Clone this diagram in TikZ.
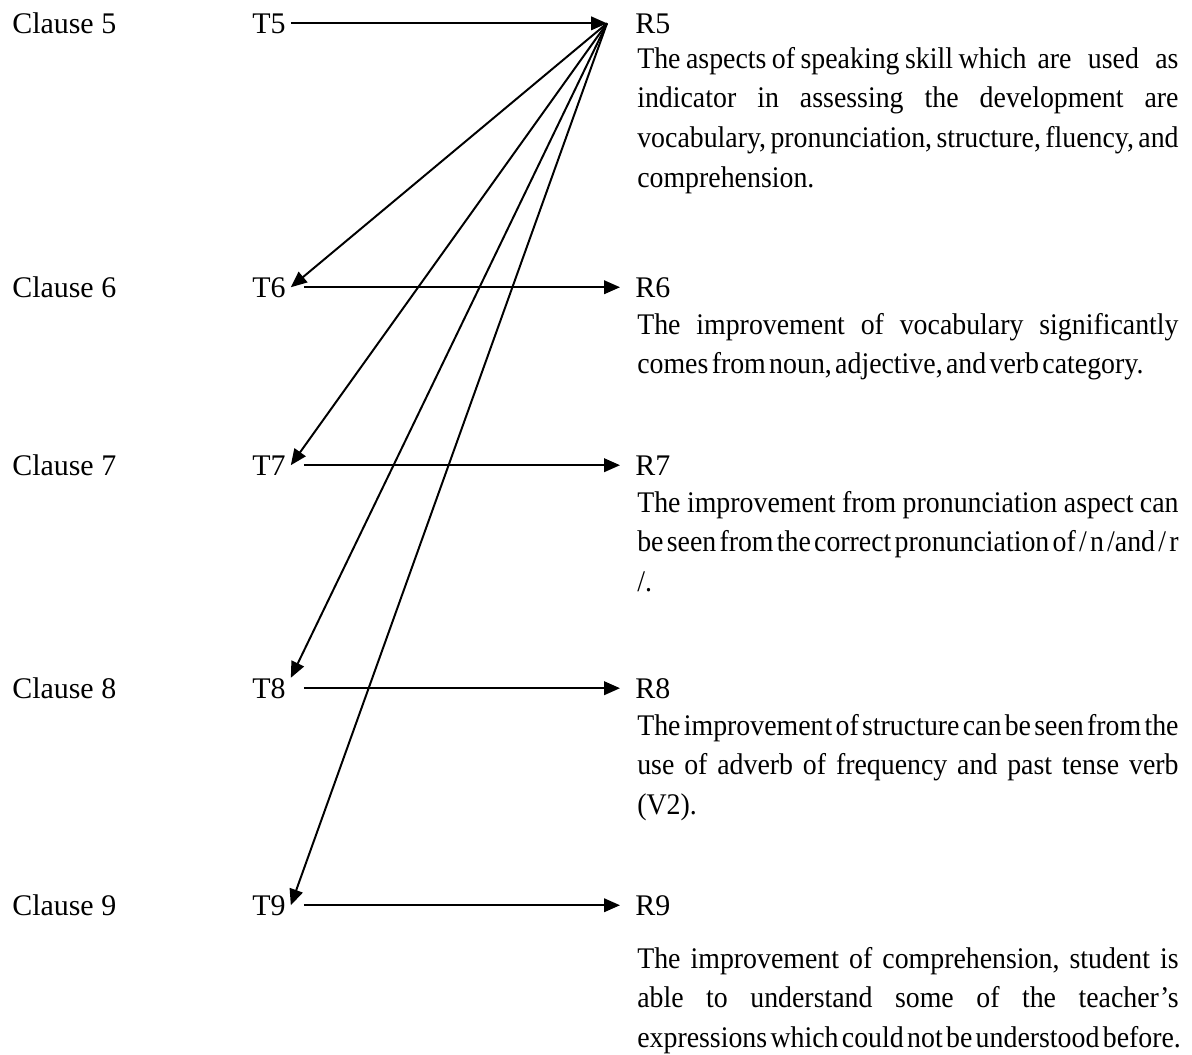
\documentclass[tikz,border=0pt]{standalone}
\usepackage{fontspec}
\setmainfont{Liberation Serif}
\usepackage{graphicx}
\usepackage{tikz}
\usetikzlibrary{positioning, arrows.meta}

\newlength{\descw}
\setlength{\descw}{13.525cm}
\newlength{\widew}
\setlength{\widew}{14.55cm}
% condensed, justified line and condensed natural line
\newcommand{\jline}[1]{\scalebox{0.93}[1]{\hbox to \widew{\spaceskip=0.1em plus 1fil minus 0.05em\relax #1}}}
\newcommand{\nline}[1]{\scalebox{0.93}[1]{\spaceskip=0.12em\relax #1}}

\begin{document}
\begin{tikzpicture}[
    font=\fontsize{21.3}{28.1}\selectfont,
    clause/.style={
        anchor=base west,
        inner sep=0pt
    },
    tlabel/.style={
        anchor=base west,
        inner xsep=0.125cm,
        inner ysep=0pt
    },
    rlabel/.style={
        anchor=base west,
        inner xsep=0.375cm,
        inner ysep=0pt
    },
    desc/.style={
        anchor=north west,
        inner sep=0pt,
        align=left,
        font=\fontsize{21.3}{28.2}\selectfont\frenchspacing
    },
    arr/.style={-{Triangle[length=4mm, width=3.4mm]}, line width=1.4pt}
]
\useasboundingbox (0,0) rectangle (29.8,-26.35);

\node[clause] (c5) at (0.3,  -0.825) {Clause 5};
\node[clause] (c6) at (0.3,  -7.425) {Clause 6};
\node[clause] (c7) at (0.3, -11.875) {Clause 7};
\node[clause] (c8) at (0.3, -17.45)  {Clause 8};
\node[clause] (c9) at (0.3, -22.875) {Clause 9};

\node[tlabel] (t5) at (6.175,  -0.825) {T5};
\node[tlabel] (t6) at (6.175,  -7.425) {T6};
\node[tlabel] (t7) at (6.175, -11.875) {T7};
\node[tlabel] (t8) at (6.175, -17.45)  {T8};
\node[tlabel] (t9) at (6.175, -22.875) {T9};

\node[rlabel, inner xsep=0.7cm] (r5) at (15.175, -0.825) {R5};
\node[rlabel] (r6) at (15.5,  -7.425) {R6};
\node[rlabel] (r7) at (15.5, -11.875) {R7};
\node[rlabel] (r8) at (15.5, -17.45)  {R8};
\node[rlabel] (r9) at (15.5, -22.875) {R9};

% findings under each result
\node[desc] (d5) at (15.925, -0.95) {
  \jline{\rule{0pt}{0.75cm}The aspects of speaking skill which~ are~~ used~~ as}\\
  \jline{indicator in assessing the development are}\\
  \jline{vocabulary, pronunciation, structure, fluency, and}\\
  \nline{comprehension.}};
\node[desc] (d6) at (15.925, -7.6) {
  \jline{\rule{0pt}{0.75cm}The improvement of vocabulary significantly}\\
  \nline{comes from noun, adjective, and verb category.}};
\node[desc] (d7) at (15.925, -12.05) {
  \jline{\rule{0pt}{0.75cm}The improvement from pronunciation aspect can}\\
  \jline{be seen from the correct pronunciation of / n /and / r}\\
  \nline{/.}};
\node[desc] (d8) at (15.925, -17.625) {
  \jline{\rule{0pt}{0.75cm}The improvement of structure can be seen from the}\\
  \jline{use of adverb of frequency and past tense verb}\\
  \nline{(V2).}};
\node[desc] (d9) at (15.925, -23.45) {
  \jline{\rule{0pt}{0.75cm}The improvement of comprehension, student is}\\
  \jline{able to understand some of the teacher’s}\\
  \nline{expressions which could not be understood before.}};

\draw[arr] (t5.east) -- (r5.west);
\foreach \i in {6,7,8,9}
    \draw[arr, shorten <=0.325cm] (t\i.east) -- (r\i.west);

\draw[arr] (r5.west) -- (t6.east);
\draw[arr] (r5.west) -- (t7.east);
\draw[arr] (r5.west) -- (t8.north east);
\draw[arr] (r5.west) -- (t9.east);

\end{tikzpicture}
\end{document}
